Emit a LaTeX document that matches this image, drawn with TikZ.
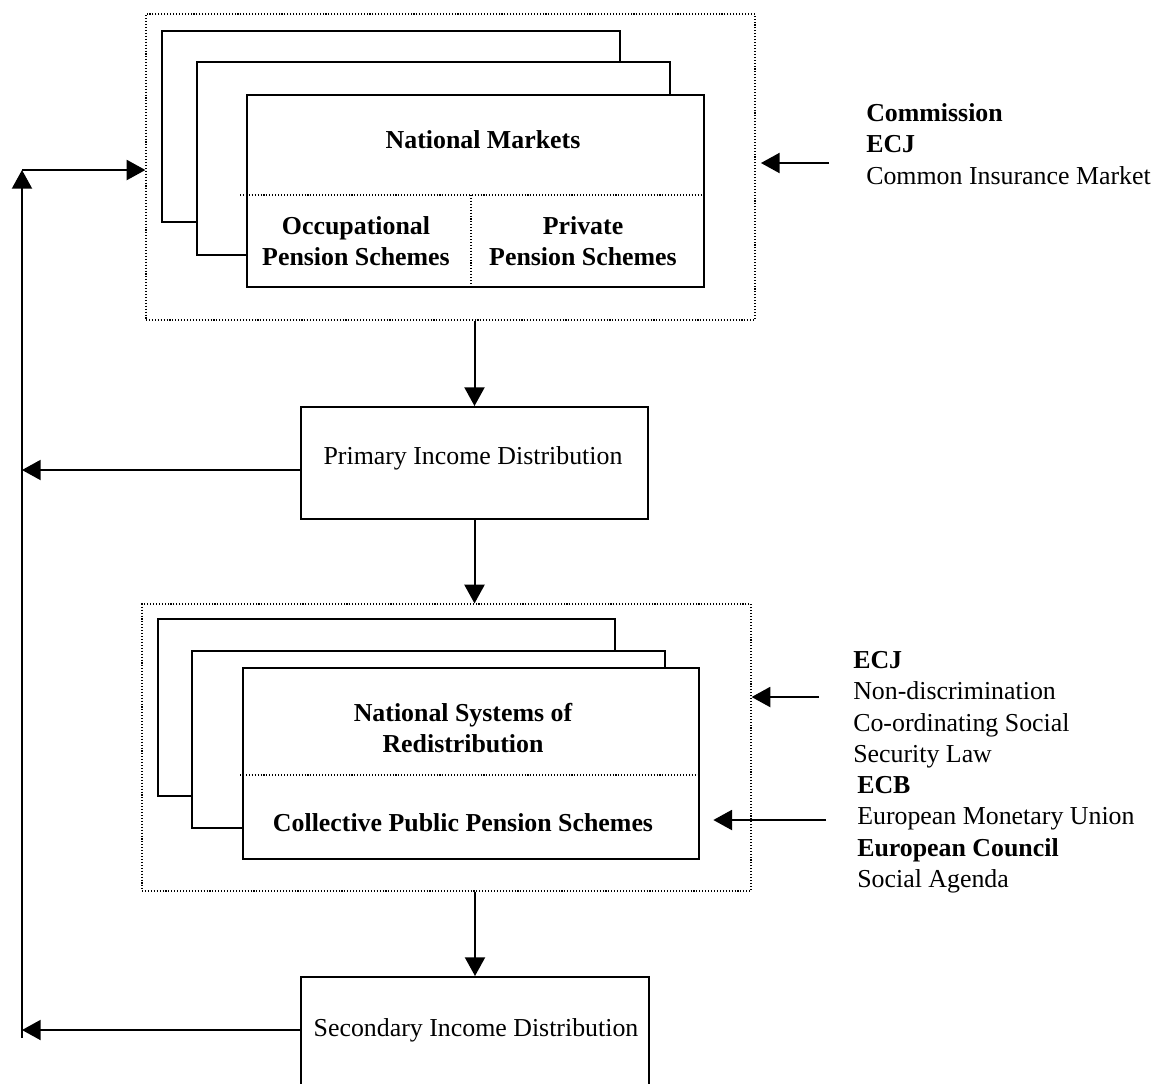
\documentclass[tikz,border=0pt]{standalone}
\usepackage{fontspec}
\setmainfont{Liberation Serif}
\usetikzlibrary{arrows.meta, positioning, fit}

\tikzset{
    outerbox/.style={draw, dash pattern=on 0.8pt off 1.4pt, line width=0.9pt, inner sep=0pt},
    card/.style={draw, fill=white, line width=1.5pt, inner sep=0pt},
    divline/.style={dash pattern=on 0.8pt off 1.4pt, line width=0.9pt},
    arr/.style={line width=1.5pt, -{Triangle[length=14pt, width=15pt]}},
    lbl/.style={align=center, font=\fontsize{19.4}{23.6}\selectfont\bfseries},
    notes/.style={align=left, anchor=north west, inner sep=0pt}
}

\begin{document}
\begin{tikzpicture}[x=0.75pt, y=-0.75pt, font=\fontsize{19.4}{23.6}\selectfont]
    \useasboundingbox (0,0) rectangle (1152,1083);
    \clip (0,0) rectangle (1152,1083);

    \node[outerbox, fit={(146,14) (755,320)}] (mktframe) {};
    \node[card, fit={(162,31) (620,222)}] (mktc) {};
    \node[card, fit={(197,62) (670,255)}] (mktb) {};
    \node[card, fit={(247,95) (704,287)}] (mkt) {};
    \coordinate (mktcut) at (240,195);
    \coordinate (mktmid) at (471,195);
    \draw[divline] (mktcut) -- (mktcut -| mkt.east);
    \draw[divline] (mktmid) -- (mktmid |- mkt.south);
    \node[lbl] (mkttitle) at (483,140) {National Markets};
    \node[lbl] (occ) at (356,241) {Occupational\\Pension Schemes};
    \node[lbl] (priv) at (583,241) {Private\\Pension Schemes};

    \node[card, fit={(301,407) (648,519)}] (prim) {};
    \node (primtext) at (473,458) {Primary Income Distribution};

    \node[outerbox, fit={(142,604) (751,891)}] (redframe) {};
    \node[card, fit={(158,619) (615,796)}] (redc) {};
    \node[card, fit={(192,651) (665,828)}] (redb) {};
    \node[card, fit={(243,668) (699,859)}] (red) {};
    \coordinate (redcut) at (240,775);
    \draw[divline] (redcut) -- (redcut -| red.east);
    \node[lbl] (redtitle) at (463,728) {National Systems of\\Redistribution};
    \node[lbl] (pub) at (463,823) {Collective Public Pension Schemes};

    \node[card, fit={(301,977) (649,1100)}] (sec) {};
    \node (sectext) at (476,1030) {Secondary Income Distribution};

    \node[notes] (euA) at (866,103) {\textbf{Commission}\\\textbf{ECJ}\\Common Insurance Market};
    \node[notes] (euB) at (853,651) {\textbf{ECJ}\\Non-discrimination\\Co-ordinating Social\\Security Law};
    \node[notes] (euC) at (857,776) {\textbf{ECB}\\European Monetary Union\\\textbf{European Council}\\Social Agenda};

    % inputs from the right
    \coordinate (inA) at (829,163);
    \coordinate (inB) at (819,697);
    \coordinate (inC) at (826,820);
    \draw[arr, shorten >=4pt] (inA) -- (inA -| mktframe.east);
    \draw[arr] (inB) -- (inB -| redframe.east);
    \draw[arr, shorten >=10pt] (inC) -- (inC -| red.east);

    % main flow
    \draw[arr] (prim.north |- mktframe.south) -- (prim.north);
    \draw[arr] (prim.south) -- (prim.south |- redframe.north);
    \draw[arr] (sec.north |- redframe.south) -- (sec.north);

    % feedback loop
    \coordinate (back1) at (22,470);
    \coordinate (back2) at (22,1030);
    \coordinate (loopbot) at (22,1038);
    \coordinate (looptop) at (22,170);
    \draw[arr] (back1 -| prim.west) -- (back1);
    \draw[arr] (back2 -| sec.west) -- (back2);
    \draw[arr] (loopbot) -- (looptop);
    \draw[arr] (looptop) -- (looptop -| mktframe.west);
\end{tikzpicture}
\end{document}
